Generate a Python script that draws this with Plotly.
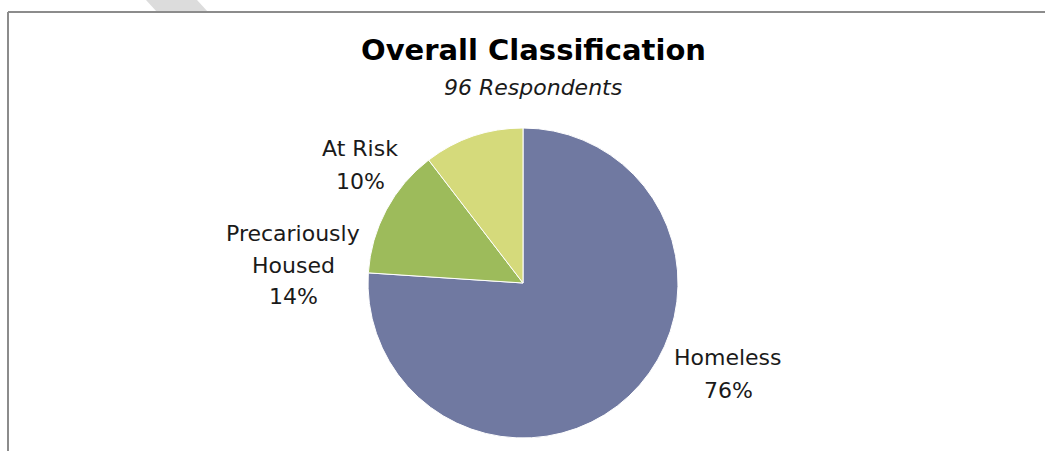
import plotly.graph_objects as go

# Survey classification (96 respondents)
categories = ["Homeless", "Precariously Housed", "At Risk"]
respondents = [73, 13, 10]
slice_colors = ["#7079A1", "#9DBB5B", "#D5DA7B"]

W, H = 1045, 451


def px_x(x):
    return x / W


def px_y(y):
    return 1 - y / H


total = sum(respondents)
shares = [round(100 * v / total) for v in respondents]

fig = go.Figure(
    go.Pie(
        labels=categories,
        values=respondents,
        sort=False,
        direction="clockwise",
        rotation=0,
        marker=dict(colors=slice_colors, line=dict(color="white", width=1)),
        textinfo="none",
        hoverinfo="label+percent",
        showlegend=False,
        domain=dict(x=[px_x(368), px_x(678)], y=[px_y(438), px_y(128)]),
    )
)

label_font = dict(family="DejaVu Sans", size=22, color="#1a1a1a")
# each label is drawn line by line: (centre x, centre y of each line)
label_lines = [
    (["Homeless"], 728, [357, 390]),
    (["Precariously", "Housed"], 293, [233, 265, 296]),
    (["At Risk"], 360, [149, 181]),
]
annotations = []
for (name_lines, lx, ys), share in zip(label_lines, shares):
    for text, ly in zip(name_lines + [f"{share}%"], ys):
        annotations.append(
            dict(
                x=px_x(lx), y=px_y(ly), xref="paper", yref="paper",
                text=text, showarrow=False,
                xanchor="center", yanchor="middle",
                font=label_font,
            )
        )

annotations.append(
    dict(
        x=px_x(533), y=px_y(50), xref="paper", yref="paper",
        text="<b>Overall Classification</b>", showarrow=False,
        xanchor="center", yanchor="middle",
        font=dict(family="DejaVu Sans", size=29, color="#000000"),
    )
)
annotations.append(
    dict(
        x=px_x(533), y=px_y(88), xref="paper", yref="paper",
        text=f"<i>{total} Respondents</i>", showarrow=False,
        xanchor="center", yanchor="middle",
        font=dict(family="DejaVu Sans", size=22, color="#1a1a1a"),
    )
)

shapes = [
    # faint watermark band at the top edge
    dict(
        type="path", xref="paper", yref="paper",
        path=f"M {px_x(146)} {px_y(0)} L {px_x(197)} {px_y(0)} L {px_x(208)} {px_y(12)} L {px_x(157)} {px_y(12)} Z",
        fillcolor="#DCDCDC", line=dict(width=0), layer="below",
    ),
    # chart frame: top and left edges
    dict(
        type="line", xref="paper", yref="paper",
        x0=px_x(8), x1=1, y0=px_y(12), y1=px_y(12),
        line=dict(color="#8C8C8C", width=2),
    ),
    dict(
        type="line", xref="paper", yref="paper",
        x0=px_x(8), x1=px_x(8), y0=px_y(12), y1=0,
        line=dict(color="#8C8C8C", width=2),
    ),
]

fig.update_layout(
    width=W,
    height=H,
    margin=dict(l=0, r=0, t=0, b=0),
    paper_bgcolor="white",
    plot_bgcolor="white",
    annotations=annotations,
    shapes=shapes,
)

fig.write_html("out.html")
